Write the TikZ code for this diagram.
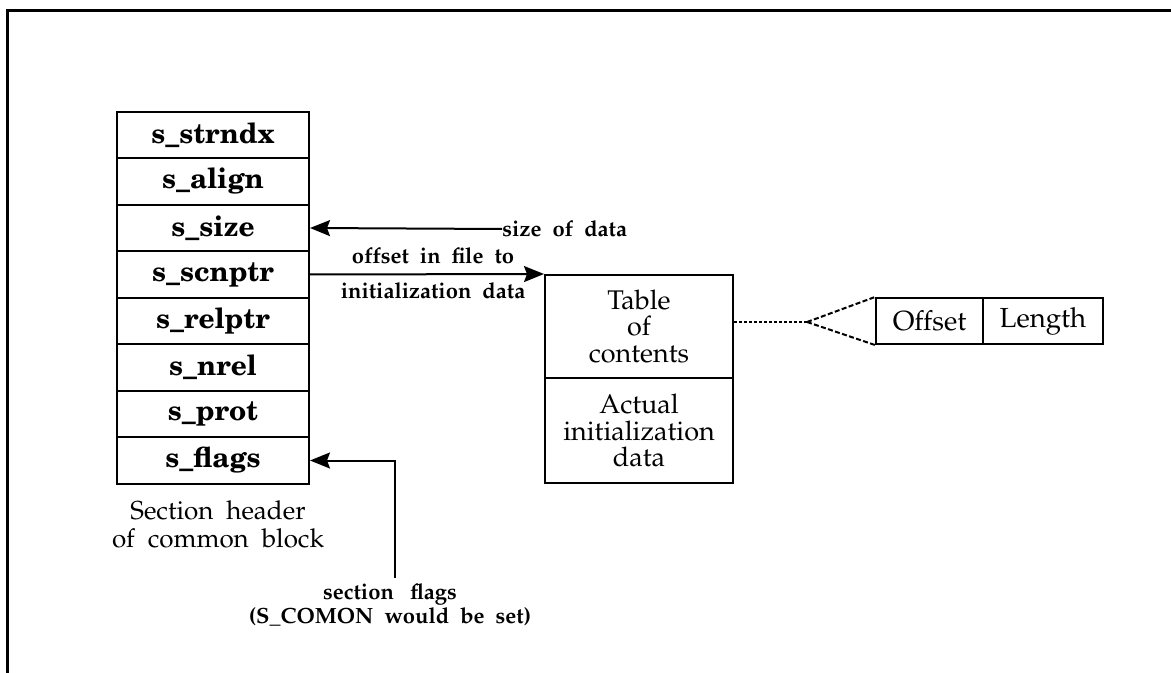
\documentclass[tikz,border=0pt]{standalone}
\usepackage[T1,TU]{fontenc}
\usetikzlibrary{arrows.meta}
\newcommand\palf{\fontencoding{T1}\fontfamily{ppl}\selectfont}
\newcommand\fieldf{\fontencoding{T1}\fontfamily{pnc}\fontseries{b}\selectfont}
\tikzset{
  field/.style={draw, line width=1pt, minimum width=96pt, minimum height=23.25pt, inner sep=0pt,
    font=\fieldf\fontsize{14}{16}\selectfont},
  tocbox/.style={draw, line width=1pt, minimum width=94pt, inner sep=0pt, align=center,
    font=\palf\fontsize{13.5}{13.3}\selectfont},
  cell/.style={draw, line width=1pt, minimum height=23pt, inner sep=0pt,
    font=\palf\fontsize{13.8}{15}\selectfont},
  lbl/.style={inner sep=0pt, align=center, font=\palf\bfseries\fontsize{11}{12}\selectfont},
  arr/.style={line width=1pt, -{Stealth[length=10pt,width=8pt,inset=1.5pt]}},
  dotline/.style={line width=1pt, dash pattern=on 1.5pt off 1pt},
  dashline/.style={line width=1pt, dash pattern=on 2.5pt off 1.2pt}
}
\begin{document}
\begin{tikzpicture}[x=0.5pt,y=-0.5pt]
\useasboundingbox (0,0) rectangle (1171,673);
% frame
\draw[line width=1.5pt] (7,673) -- (7,11) -- (1171,11);
% section header fields
\node[field] (strndx) at (213,135) {s\_strndx};
\node[field] (align)  at (213,181.5) {s\_align};
\node[field] (size)   at (213,228) {s\_size};
\node[field] (scnptr) at (213,274.5) {s\_scnptr};
\node[field] (relptr) at (213,321) {s\_relptr};
\node[field] (nrel)   at (213,367.5) {s\_nrel};
\node[field] (prot)   at (213,414) {s\_prot};
\node[field] (flags)  at (213,460.5) {s\_flags};
\node[align=center, inner sep=0pt, font=\palf\fontsize{13}{14}\selectfont] (cap) at (218,524)
  {Section~ header\\of~ common~ block};
% size of data
\node[lbl, anchor=west] (sizetxt) at (502,229) {size~ of~ data};
\draw[arr] (sizetxt.west) -- (size.east);
% offset arrow
\node[tocbox, minimum height=51.5pt] (toc) at (639,326.5) {Table\\of\\contents};
\node[tocbox, minimum height=52.5pt] (act) at (639,430.5) {Actual\\initialization\\data};
\draw[arr] (scnptr.east) -- (toc.north west);
\node[lbl] (offtxt) at (433,256) {offset~ in~ file~ to};
\node[lbl] (inittxt) at (433,291) {initialization~ data};
% offset/length
\node[cell, minimum width=53.5pt] (off) at (929.5,321) {Offset};
\node[cell, minimum width=60pt] (len) at (1043,321) {Length};
\coordinate (split) at (807,322);
\draw[dotline] (toc.east |- split) -- (split);
\draw[dashline] (split) -- (off.north west);
\draw[dashline] (split) -- (off.south west);
% flags arrow
\coordinate (fb) at (395,578);
\draw[arr] (fb) |- (flags.east);
\node[inner sep=0pt, align=center, font=\palf\bfseries\fontsize{11}{10}\selectfont] (flagtxt) at (390,605)
  {section~~ flags\\(S\_COMON~ would~ be~ set)};
\end{tikzpicture}
\end{document}
